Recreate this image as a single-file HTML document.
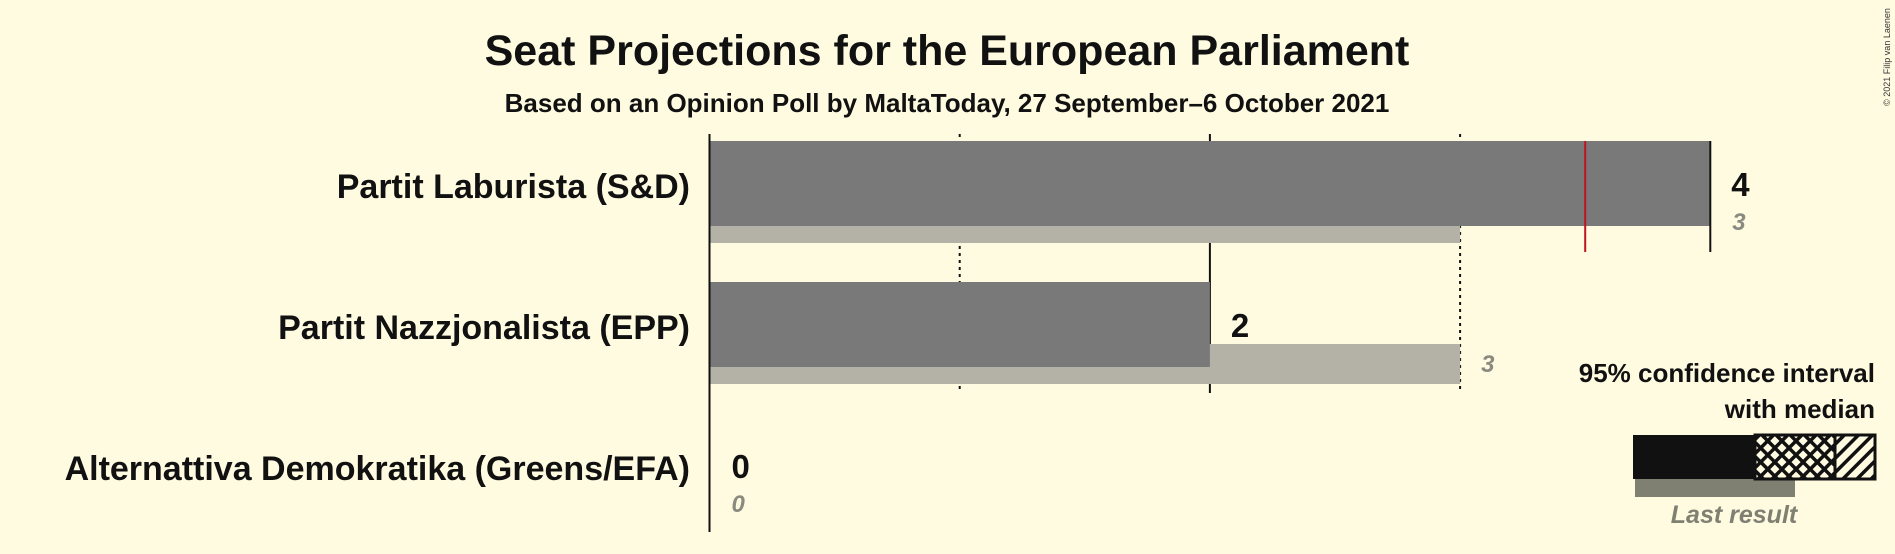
<!DOCTYPE html>
<html><head><meta charset="utf-8"><style>
body{margin:0;background:#fffbe1;}
svg{display:block;font-family:"Liberation Sans",sans-serif;}
</style></head><body>
<svg id="c" width="1895" height="554" viewBox="0 0 1895 554">
<defs>
<pattern id="cross" width="10" height="10" patternUnits="userSpaceOnUse" patternTransform="rotate(45)">
<rect width="10" height="10" fill="#fffbe1"/><rect width="10" height="3.5" fill="#111"/><rect width="3.5" height="10" fill="#111"/>
</pattern>
<pattern id="diag" width="10" height="10" patternUnits="userSpaceOnUse" patternTransform="rotate(45)">
<rect width="10" height="10" fill="#fffbe1"/><rect width="3.5" height="10" fill="#111"/>
</pattern>
</defs>
<text x="947" y="65" text-anchor="middle" font-size="43" font-weight="bold" fill="#111">Seat Projections for the European Parliament</text>
<text x="947" y="112" text-anchor="middle" font-size="26" font-weight="bold" fill="#111">Based on an Opinion Poll by MaltaToday, 27 September–6 October 2021</text>
<text transform="translate(1890,57) rotate(-90)" text-anchor="middle" font-size="9" fill="#333">© 2021 Filip van Laenen</text>
<g id="plot"></g>
<g>
<text x="1875" y="382" text-anchor="end" font-size="26" font-weight="bold" fill="#111">95% confidence interval</text>
<text x="1875" y="418" text-anchor="end" font-size="26" font-weight="bold" fill="#111">with median</text>
<rect x="1635" y="479" width="160" height="18" fill="#7f7f72"/>
<rect x="1633" y="435" width="122" height="44" fill="#111"/>
<rect x="1755" y="435" width="80" height="44" fill="url(#cross)" stroke="#111" stroke-width="3"/>
<rect x="1835" y="435" width="40" height="44" fill="url(#diag)" stroke="#111" stroke-width="3"/>
<text x="1734" y="523" text-anchor="middle" font-size="25" font-weight="bold" font-style="italic" fill="#7f7f72">Last result</text>
</g>
</svg>
<script>
const parties=["Partit Laburista (S&D)","Partit Nazzjonalista (EPP)","Alternattiva Demokratika (Greens/EFA)"];
const medians=[4,2,0];
const lastResults=[3,3,0];
const ticks=[0,1,2,3,4];
const majority=3.5;
const NS="http://www.w3.org/2000/svg";
const g=document.getElementById('plot');
const x=v=>709.5+250.2*v;
const rowTop=i=>141+141*i;
function mk(t,a){const e=document.createElementNS(NS,t);for(const k in a)e.setAttribute(k,a[k]);g.appendChild(e);return e;}
ticks.forEach(t=>{
  if(t===0||t>3)return;
  const l=mk('line',{x1:x(t),x2:x(t),y1:134,y2:393,stroke:'#111','stroke-width':2,'stroke-dasharray':t%2?'3,4':'none'});
  
  
});
parties.forEach((p,i)=>{
  const top=rowTop(i);
  if(lastResults[i]>0){
    const r=mk('rect',{x:x(0),y:top+62,width:x(lastResults[i])-x(0),height:40,fill:'#b4b2a6'});
    
    
  }
  if(medians[i]>0){
    const b=mk('rect',{x:x(0),y:top,width:x(medians[i])-x(0),height:85,fill:'#797979'});
    
    
  }
  const lb=mk('text',{x:690,y:top+57,'text-anchor':'end','font-size':34,'font-weight':'bold',fill:'#111'});
  lb.textContent=p;
  
  
  const vx=x(medians[i])+(medians[i]>0?21:22);
  const mv=mk('text',{x:vx,y:top+55,'font-size':33,'font-weight':'bold',fill:'#111'});
  mv.textContent=medians[i];
  
  
  const lx=lastResults[i]>medians[i]?x(lastResults[i])+21:x(medians[i])+22;
  const ly=lastResults[i]>medians[i]?top+90:top+89;
  const lv=mk('text',{x:lx,y:ly,'font-size':24,'font-weight':'bold','font-style':'italic',fill:'#8a8a80'});
  lv.textContent=lastResults[i];
  
  
});
const ax=mk('line',{x1:x(0),x2:x(0),y1:134,y2:532,stroke:'#111','stroke-width':2});


const t4=mk('line',{x1:x(4),x2:x(4),y1:141,y2:252,stroke:'#111','stroke-width':2});


const ml=mk('line',{x1:x(majority),x2:x(majority),y1:141,y2:252,stroke:'#c0141e','stroke-width':2});


</script>
</body></html>
